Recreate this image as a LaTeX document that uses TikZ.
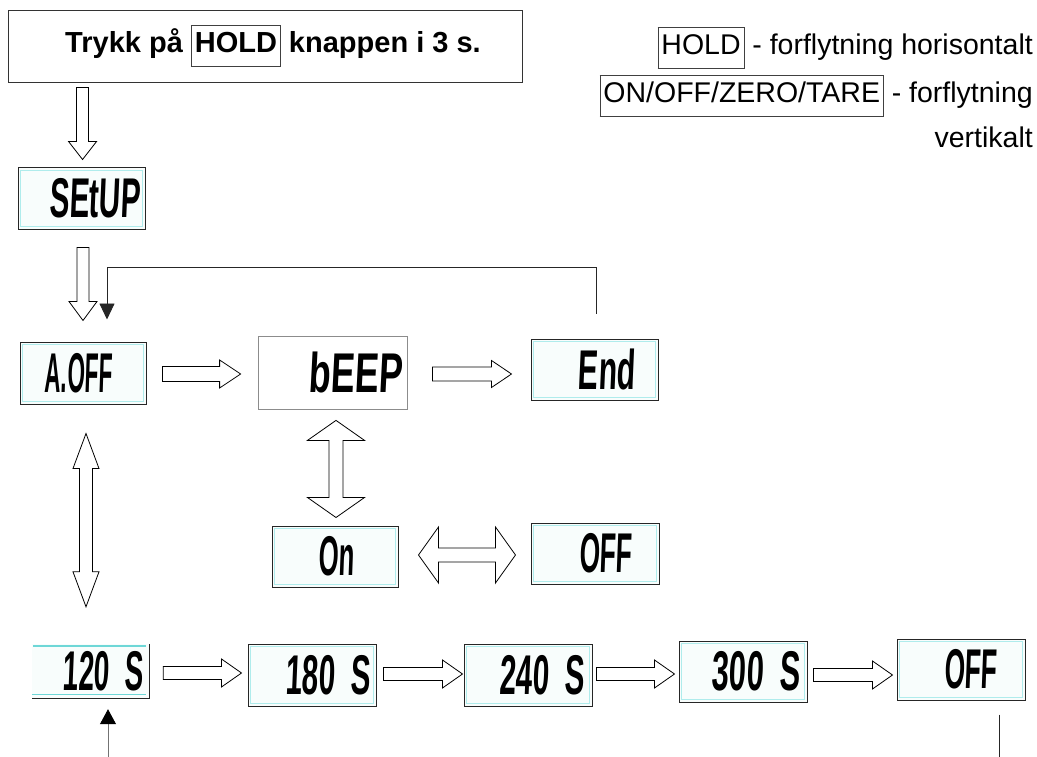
\documentclass[tikz,border=0pt]{standalone}
\usepackage{fontspec}
\setmainfont{Liberation Sans}
\newfontfamily\lcdfont[FakeSlant=0.08]{Liberation Sans}
\usetikzlibrary{calc,arrows.meta}
\definecolor{lcdbg}{RGB}{248,253,252}
\definecolor{lcdline}{RGB}{175,236,236}
\definecolor{lcdcyan}{RGB}{110,215,215}
\newcommand\lcdtxt[2]{{\lcdfont\bfseries\fontsize{56}{60}\selectfont\scalebox{#1}[1]{#2}}}
\newcommand\lcdr[4]{\makebox[#1pt][r]{\lcdtxt{#2}{#3}\hspace*{#4pt}}}
\newcommand\lcdgap{\hspace{0.25em}}
\newcommand\keybox[1]{{\setlength\fboxsep{3pt}\setlength\fboxrule{0.9pt}\fcolorbox{black!75}{white}{\strut #1}}}
% hollow block arrows
\newcommand\blkR[5]{\draw[block] let \p1=(#1), \p2=(#2) in (\x1,\y1+#3) -- (\x2-#5,\y1+#3) -- (\x2-#5,\y1+#4) -- (\x2,\y1) -- (\x2-#5,\y1-#4) -- (\x2-#5,\y1-#3) -- (\x1,\y1-#3) -- cycle;}
\newcommand\blkD[5]{\draw[block] let \p1=(#1), \p2=(#2) in (\x1-#3,\y1) -- (\x1-#3,\y2+#5) -- (\x1-#4,\y2+#5) -- (\x1,\y2) -- (\x1+#4,\y2+#5) -- (\x1+#3,\y2+#5) -- (\x1+#3,\y1) -- cycle;}
\newcommand\blkUD[5]{\draw[block] let \p1=(#1), \p2=(#2) in (\x1,\y1) -- (\x1+#4,\y1-#5) -- (\x1+#3,\y1-#5) -- (\x1+#3,\y2+#5) -- (\x1+#4,\y2+#5) -- (\x1,\y2) -- (\x1-#4,\y2+#5) -- (\x1-#3,\y2+#5) -- (\x1-#3,\y1-#5) -- (\x1-#4,\y1-#5) -- cycle;}
\newcommand\blkLR[5]{\draw[block] let \p1=(#1), \p2=(#2) in (\x1,\y1) -- (\x1+#5,\y1+#4) -- (\x1+#5,\y1+#3) -- (\x2-#5,\y1+#3) -- (\x2-#5,\y1+#4) -- (\x2,\y1) -- (\x2-#5,\y1-#4) -- (\x2-#5,\y1-#3) -- (\x1+#5,\y1-#3) -- (\x1+#5,\y1-#4) -- cycle;}
\tikzset{
  block/.style={draw=black, line width=0.8pt, fill=white, line join=miter},
  lcd/.style={draw=black!85, line width=1pt, fill=lcdbg, inner sep=0pt,
    path picture={\draw[lcdline, line width=0.8pt]
      ([shift={(2.5,-2.5)}]path picture bounding box.north west) rectangle
      ([shift={(-2.5,2.5)}]path picture bounding box.south east);}},
  lcdplain/.style={fill=lcdbg, draw=none, inner sep=0pt,
    path picture={
      \draw[lcdcyan, line width=1.6pt] ([shift={(1,-2)}]path picture bounding box.north west) -- ([shift={(-3,-2)}]path picture bounding box.north east);
      \draw[lcdcyan, line width=1.2pt] ([shift={(0,3.5)}]path picture bounding box.south west) -- ([shift={(-3,3.5)}]path picture bounding box.south east);}},
  dims/.style 2 args={minimum width=#1pt, minimum height=#2pt},
  connector/.style={draw=black!85, line width=0.9pt},
}
\begin{document}
\begin{tikzpicture}[x=1pt,y=1pt]
\useasboundingbox (0,0) rectangle (1037,-757);

% title and legend
\node[draw=black!80, line width=0.9pt, dims={514}{72}, inner sep=0pt,
      font=\bfseries\fontsize{29}{34}\selectfont] (title) at (265,-46)
      {\hspace*{16pt}Trykk på \keybox{HOLD} knappen i 3 s.};
\node[anchor=base east, inner sep=0pt, font=\fontsize{28.5}{34}\selectfont] (leg1) at (1033,-55)
      {\keybox{HOLD} - forflytning horisontalt};
\node[anchor=base east, inner sep=0pt, font=\fontsize{28.5}{34}\selectfont] (leg2) at (1033,-103)
      {\keybox{ON/OFF/ZERO/TARE} - forflytning};
\node[anchor=base east, inner sep=0pt, font=\fontsize{28.5}{34}\selectfont] (leg3) at (1033,-148)
      {vertikalt};

% LCD displays
\node[lcd, dims={127}{61}] (setup) at (81.5,-198.5) {\lcdr{127}{0.53}{SEtUP}{5}};
\node[lcd, dims={126}{62}] (aoff) at (83,-373) {\lcdr{126}{0.4}{A.OFF}{34}};
\node[draw=black!45, line width=0.8pt, fill=white, inner sep=0pt, dims={149}{73}] (beep) at (332.5,-372.5) {\lcdr{149}{0.64}{bEEP}{5}};
\node[lcd, dims={127}{61}] (endd) at (594.5,-369.5) {\lcdr{127}{0.54}{End}{23}};
\node[lcd, dims={126}{61}] (on) at (335,-556.5) {\lcdr{126}{0.46}{On}{44}};
\node[lcd, dims={128}{61}] (offa) at (595,-553.5) {\lcdr{128}{0.47}{OFF}{27}};
\node[lcdplain, dims={117}{54}] (s120) at (90.5,-671) {\lcdr{117}{0.5}{120\lcdgap{} S}{6}};
\draw[black!85, line width=1pt] (s120.north east) -- (s120.south east) -- (s120.south west);
\node[lcd, dims={128}{62}] (s180) at (312,-675) {\lcdr{128}{0.53}{180\lcdgap{} S}{6}};
\node[lcd, dims={128}{62}] (s240) at (528,-675) {\lcdr{128}{0.53}{240\lcdgap{} S}{8}};
\node[lcd, dims={128}{61}] (s300) at (743,-671.5) {\lcdr{128}{0.55}{300\lcdgap{} S}{7}};
\node[lcd, dims={128}{61}] (offb) at (961,-669.5) {\lcdr{128}{0.47}{OFF}{28}};

% hollow arrows
\blkD{$(title.south west)+(75,-5)$}{$(setup.north)+(0,8)$}{6}{14}{18}
\blkD{$(setup.south)+(1.5,-18)$}{$(aoff.north)+(0,21)$}{6}{14}{19}
\blkR{$(aoff.east)+(16,-1)$}{$(beep.west)+(-17,0)$}{7.5}{14}{21}
\blkR{$(beep.east)+(25,-1.5)$}{$(endd.west)+(-19,0)$}{7}{13.5}{20}
\blkUD{$(beep.south)+(3.5,-11)$}{$(on.north)+(0,8)$}{7}{28.5}{20}
\blkUD{$(aoff.south)+(3,-29)$}{$(s120.north)+(0,37)$}{6.5}{13}{35}
\blkLR{$(on.east)+(20,1.5)$}{$(offa.west)+(-15,0)$}{7}{28}{20}
\blkR{$(s120.east)+(14,-2)$}{$(s180.west)+(-6,0)$}{6.5}{14}{20}
\blkR{$(s180.east)+(7,1)$}{$(s240.west)+(-1,0)$}{6.5}{14}{20}
\blkR{$(s240.east)+(4,1)$}{$(s300.west)+(-4,0)$}{6.5}{14}{20}
\blkR{$(s300.east)+(6,-3.5)$}{$(offb.west)+(-4,0)$}{6.5}{14}{20}

% return loop End -> A.OFF
\coordinate (loopstart) at ($(endd.north)+(1.5,25)$);
\coordinate (loopend) at ($(aoff.north)+(24,22)$);
\draw[connector, -{Triangle[length=16pt,width=15pt]}] (loopstart) -- ++(0,46) -| (loopend);

% bottom connectors
\coordinate (upstart) at ($(s120.south)+(17.5,-59)$);
\draw[draw=black!55, line width=0.9pt, -{Triangle[length=15pt,width=16pt,color=black]}] (upstart) -- ($(s120.south)+(17.5,-11)$);
\coordinate (offline) at ($(offb.south)+(38,-14)$);
\draw[connector] (offline) -- ++(0,-43);
\end{tikzpicture}
\end{document}
